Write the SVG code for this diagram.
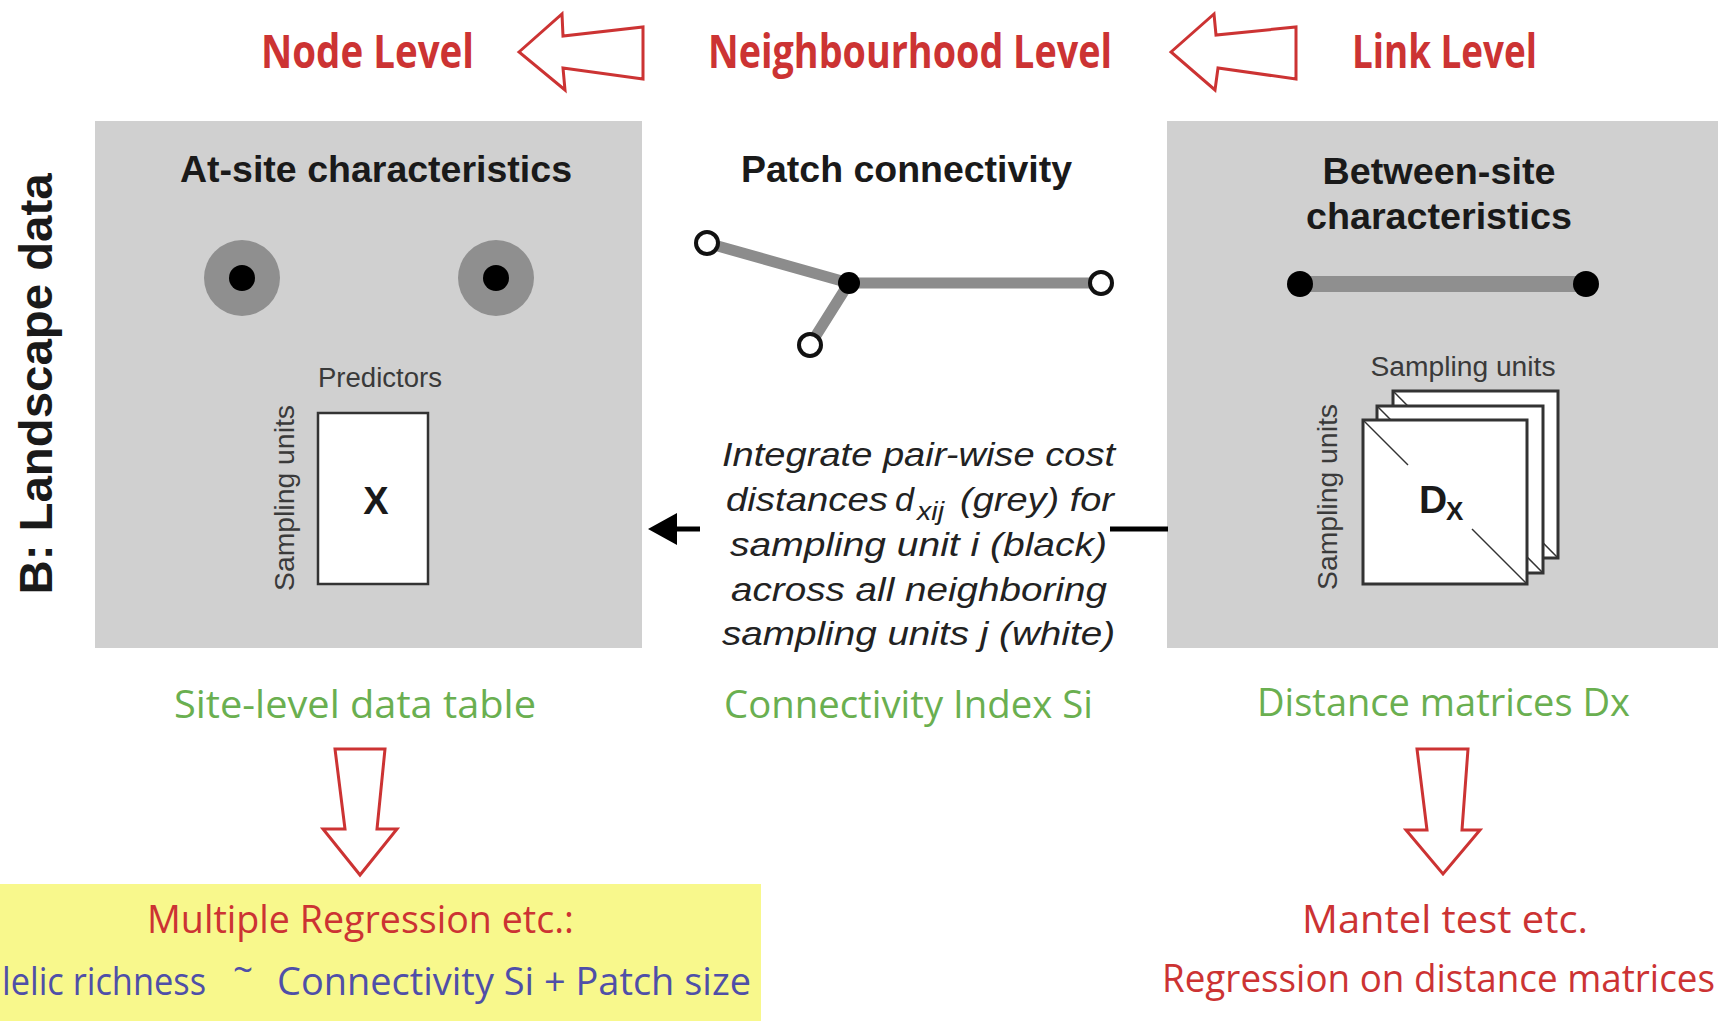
<svg xmlns="http://www.w3.org/2000/svg" width="1727" height="1021" viewBox="0 0 1727 1021">
<style>
.lvl{font-family:"Open Sans","DejaVu Sans",sans-serif;font-weight:bold;font-size:47px;fill:#cc3333}
.com{font-family:"Open Sans","DejaVu Sans",sans-serif;font-size:39px}
.grn{fill:#6aaf50}
.red{fill:#cc3333}
.blu{fill:#4f4fa8}
.hd{font-family:"Liberation Sans",Arial,sans-serif;font-weight:bold;font-size:37px;fill:#1a1a1a}
.sm{font-family:"Liberation Sans",Arial,sans-serif;font-size:27px;fill:#3a3a3a}
.it{font-family:"Liberation Sans",Arial,sans-serif;font-style:italic;font-size:34px;fill:#222}
.panel{fill:#d0d0d0}
.hollow{fill:#fff;stroke:#cc3333;stroke-width:3;stroke-linejoin:miter}
.mat{fill:#fff;stroke:#333;stroke-width:3}
.diag{stroke:#333;stroke-width:1.5}
.edge{stroke:#8c8c8c;stroke-width:11;stroke-linecap:round}
.wn{fill:#fff;stroke:#111;stroke-width:4}
</style>

<g id="side-label">
<text class="hd" text-anchor="middle" transform="translate(52,384) rotate(-90)" textLength="421" lengthAdjust="spacingAndGlyphs" style="font-size:47px">B: Landscape data</text>
</g>

<g id="level-labels">
<text class="lvl" x="261" y="68" textLength="213" lengthAdjust="spacingAndGlyphs">Node Level</text>
<text class="lvl" x="708" y="68" textLength="404" lengthAdjust="spacingAndGlyphs">Neighbourhood Level</text>
<text class="lvl" x="1352" y="68" textLength="185" lengthAdjust="spacingAndGlyphs">Link Level</text>
</g>

<g id="node-panel">
<rect class="panel" x="95" y="121" width="547" height="527"/>
<text class="hd" x="180" y="182" textLength="392" lengthAdjust="spacingAndGlyphs">At-site characteristics</text>
<circle cx="242" cy="278" r="38" fill="#8f8f8f"/>
<circle cx="242" cy="278" r="13" fill="#000"/>
<circle cx="496" cy="278" r="38" fill="#8f8f8f"/>
<circle cx="496" cy="278" r="13" fill="#000"/>
<text class="sm" x="380" y="387" text-anchor="middle" textLength="124" lengthAdjust="spacingAndGlyphs">Predictors</text>
<rect x="318" y="413" width="110" height="171" fill="#fff" stroke="#333" stroke-width="2.5"/>
<text class="hd" x="376" y="514" text-anchor="middle" style="font-size:38px">X</text>
<text class="sm" text-anchor="middle" transform="translate(294,498) rotate(-90)" textLength="186" lengthAdjust="spacingAndGlyphs">Sampling units</text>
</g>

<g id="neighbourhood-panel">
<text class="hd" x="741" y="182" textLength="331" lengthAdjust="spacingAndGlyphs">Patch connectivity</text>
<line class="edge" x1="707" y1="243" x2="849" y2="283"/>
<line class="edge" x1="849" y1="283" x2="1101" y2="283"/>
<line class="edge" x1="849" y1="283" x2="810" y2="345"/>
<circle class="wn" cx="707" cy="243" r="11"/>
<circle class="wn" cx="1101" cy="283" r="11"/>
<circle class="wn" cx="810" cy="345" r="11"/>
<circle cx="849" cy="283" r="11" fill="#000"/>
<text class="it" x="722" y="466" textLength="393" lengthAdjust="spacingAndGlyphs">Integrate pair-wise cost</text>
<text class="it" x="726" y="511" textLength="162" lengthAdjust="spacingAndGlyphs">distances</text>
<text class="it" x="895" y="511">d</text>
<text class="it" x="917" y="520" textLength="27" lengthAdjust="spacingAndGlyphs" style="font-size:25px">xij</text>
<text class="it" x="960" y="511" textLength="154" lengthAdjust="spacingAndGlyphs">(grey) for</text>
<text class="it" x="730" y="556" textLength="377" lengthAdjust="spacingAndGlyphs">sampling unit i (black)</text>
<text class="it" x="731" y="601" textLength="376" lengthAdjust="spacingAndGlyphs">across all neighboring</text>
<text class="it" x="722" y="645" textLength="393" lengthAdjust="spacingAndGlyphs">sampling units j (white)</text>
</g>

<g id="link-panel">
<rect class="panel" x="1167" y="121" width="551" height="527"/>
<text class="hd" x="1439" y="184" text-anchor="middle" textLength="233" lengthAdjust="spacingAndGlyphs">Between-site</text>
<text class="hd" x="1439" y="229" text-anchor="middle" textLength="266" lengthAdjust="spacingAndGlyphs">characteristics</text>
<line x1="1300" y1="284" x2="1586" y2="284" stroke="#8f8f8f" stroke-width="16"/>
<circle cx="1300" cy="284" r="13" fill="#000"/>
<circle cx="1586" cy="284" r="13" fill="#000"/>
<text class="sm" x="1463" y="376" text-anchor="middle" textLength="185" lengthAdjust="spacingAndGlyphs">Sampling units</text>
<rect class="mat" x="1393" y="391" width="165" height="167"/>
<line class="diag" x1="1393" y1="391" x2="1558" y2="558"/>
<rect class="mat" x="1377" y="406" width="166" height="167"/>
<line class="diag" x1="1377" y1="406" x2="1543" y2="573"/>
<rect class="mat" x="1363" y="420" width="164" height="164"/>
<line class="diag" x1="1364" y1="421" x2="1408" y2="465"/>
<line class="diag" x1="1472" y1="529" x2="1526" y2="583"/>
<text class="hd" x="1419" y="513" style="font-size:39px">D</text>
<text class="hd" x="1446" y="520" style="font-size:26px">X</text>
<text class="sm" text-anchor="middle" transform="translate(1337,497) rotate(-90)" textLength="186" lengthAdjust="spacingAndGlyphs">Sampling units</text>
</g>

<g id="result-labels">
<text class="com grn" x="174" y="718" textLength="362" lengthAdjust="spacingAndGlyphs">Site-level data table</text>
<text class="com grn" x="724" y="718" textLength="369" lengthAdjust="spacingAndGlyphs">Connectivity Index Si</text>
<text class="com grn" x="1257" y="716" textLength="373" lengthAdjust="spacingAndGlyphs">Distance matrices Dx</text>
</g>

<g id="regression-box">
<rect x="0" y="884" width="761" height="137" fill="#f8f88c"/>
<text class="com red" x="147" y="933" textLength="427" lengthAdjust="spacingAndGlyphs">Multiple Regression etc.:</text>
<text class="com blu" x="2" y="995" textLength="204" lengthAdjust="spacingAndGlyphs">lelic richness</text>
<text class="com blu" x="233" y="983" textLength="20" lengthAdjust="spacingAndGlyphs">~</text>
<text class="com blu" x="277" y="995" textLength="474" lengthAdjust="spacingAndGlyphs">Connectivity Si + Patch size</text>
</g>

<g id="mantel-result">
<text class="com red" x="1302" y="933" textLength="286" lengthAdjust="spacingAndGlyphs">Mantel test etc.</text>
<text class="com red" transform="translate(1162,992) scale(0.86,1)" x="0" y="0" textLength="643" lengthAdjust="spacingAndGlyphs">Regression on distance matrices</text>
</g>

<g id="connectors">
<polygon class="hollow" points="519,52 562,14 563,36 643,27 643,79 563,68 565,90"/>
<polygon class="hollow" points="1171,52 1214,14 1216,35 1296,27 1296,79 1218,68 1215,90"/>
<polygon class="hollow" points="335,749 385,749 377,829 397,829 360,875 323,829 345,829"/>
<polygon class="hollow" points="1417,749 1468,749 1462,830 1480,830 1443,874 1406,830 1427,830"/>
<line x1="670" y1="529" x2="700" y2="529" stroke="#000" stroke-width="5"/>
<polygon points="648,529 677,513 677,545" fill="#000"/>
<line x1="1110" y1="529" x2="1168" y2="529" stroke="#000" stroke-width="5"/>
</g>
</svg>
